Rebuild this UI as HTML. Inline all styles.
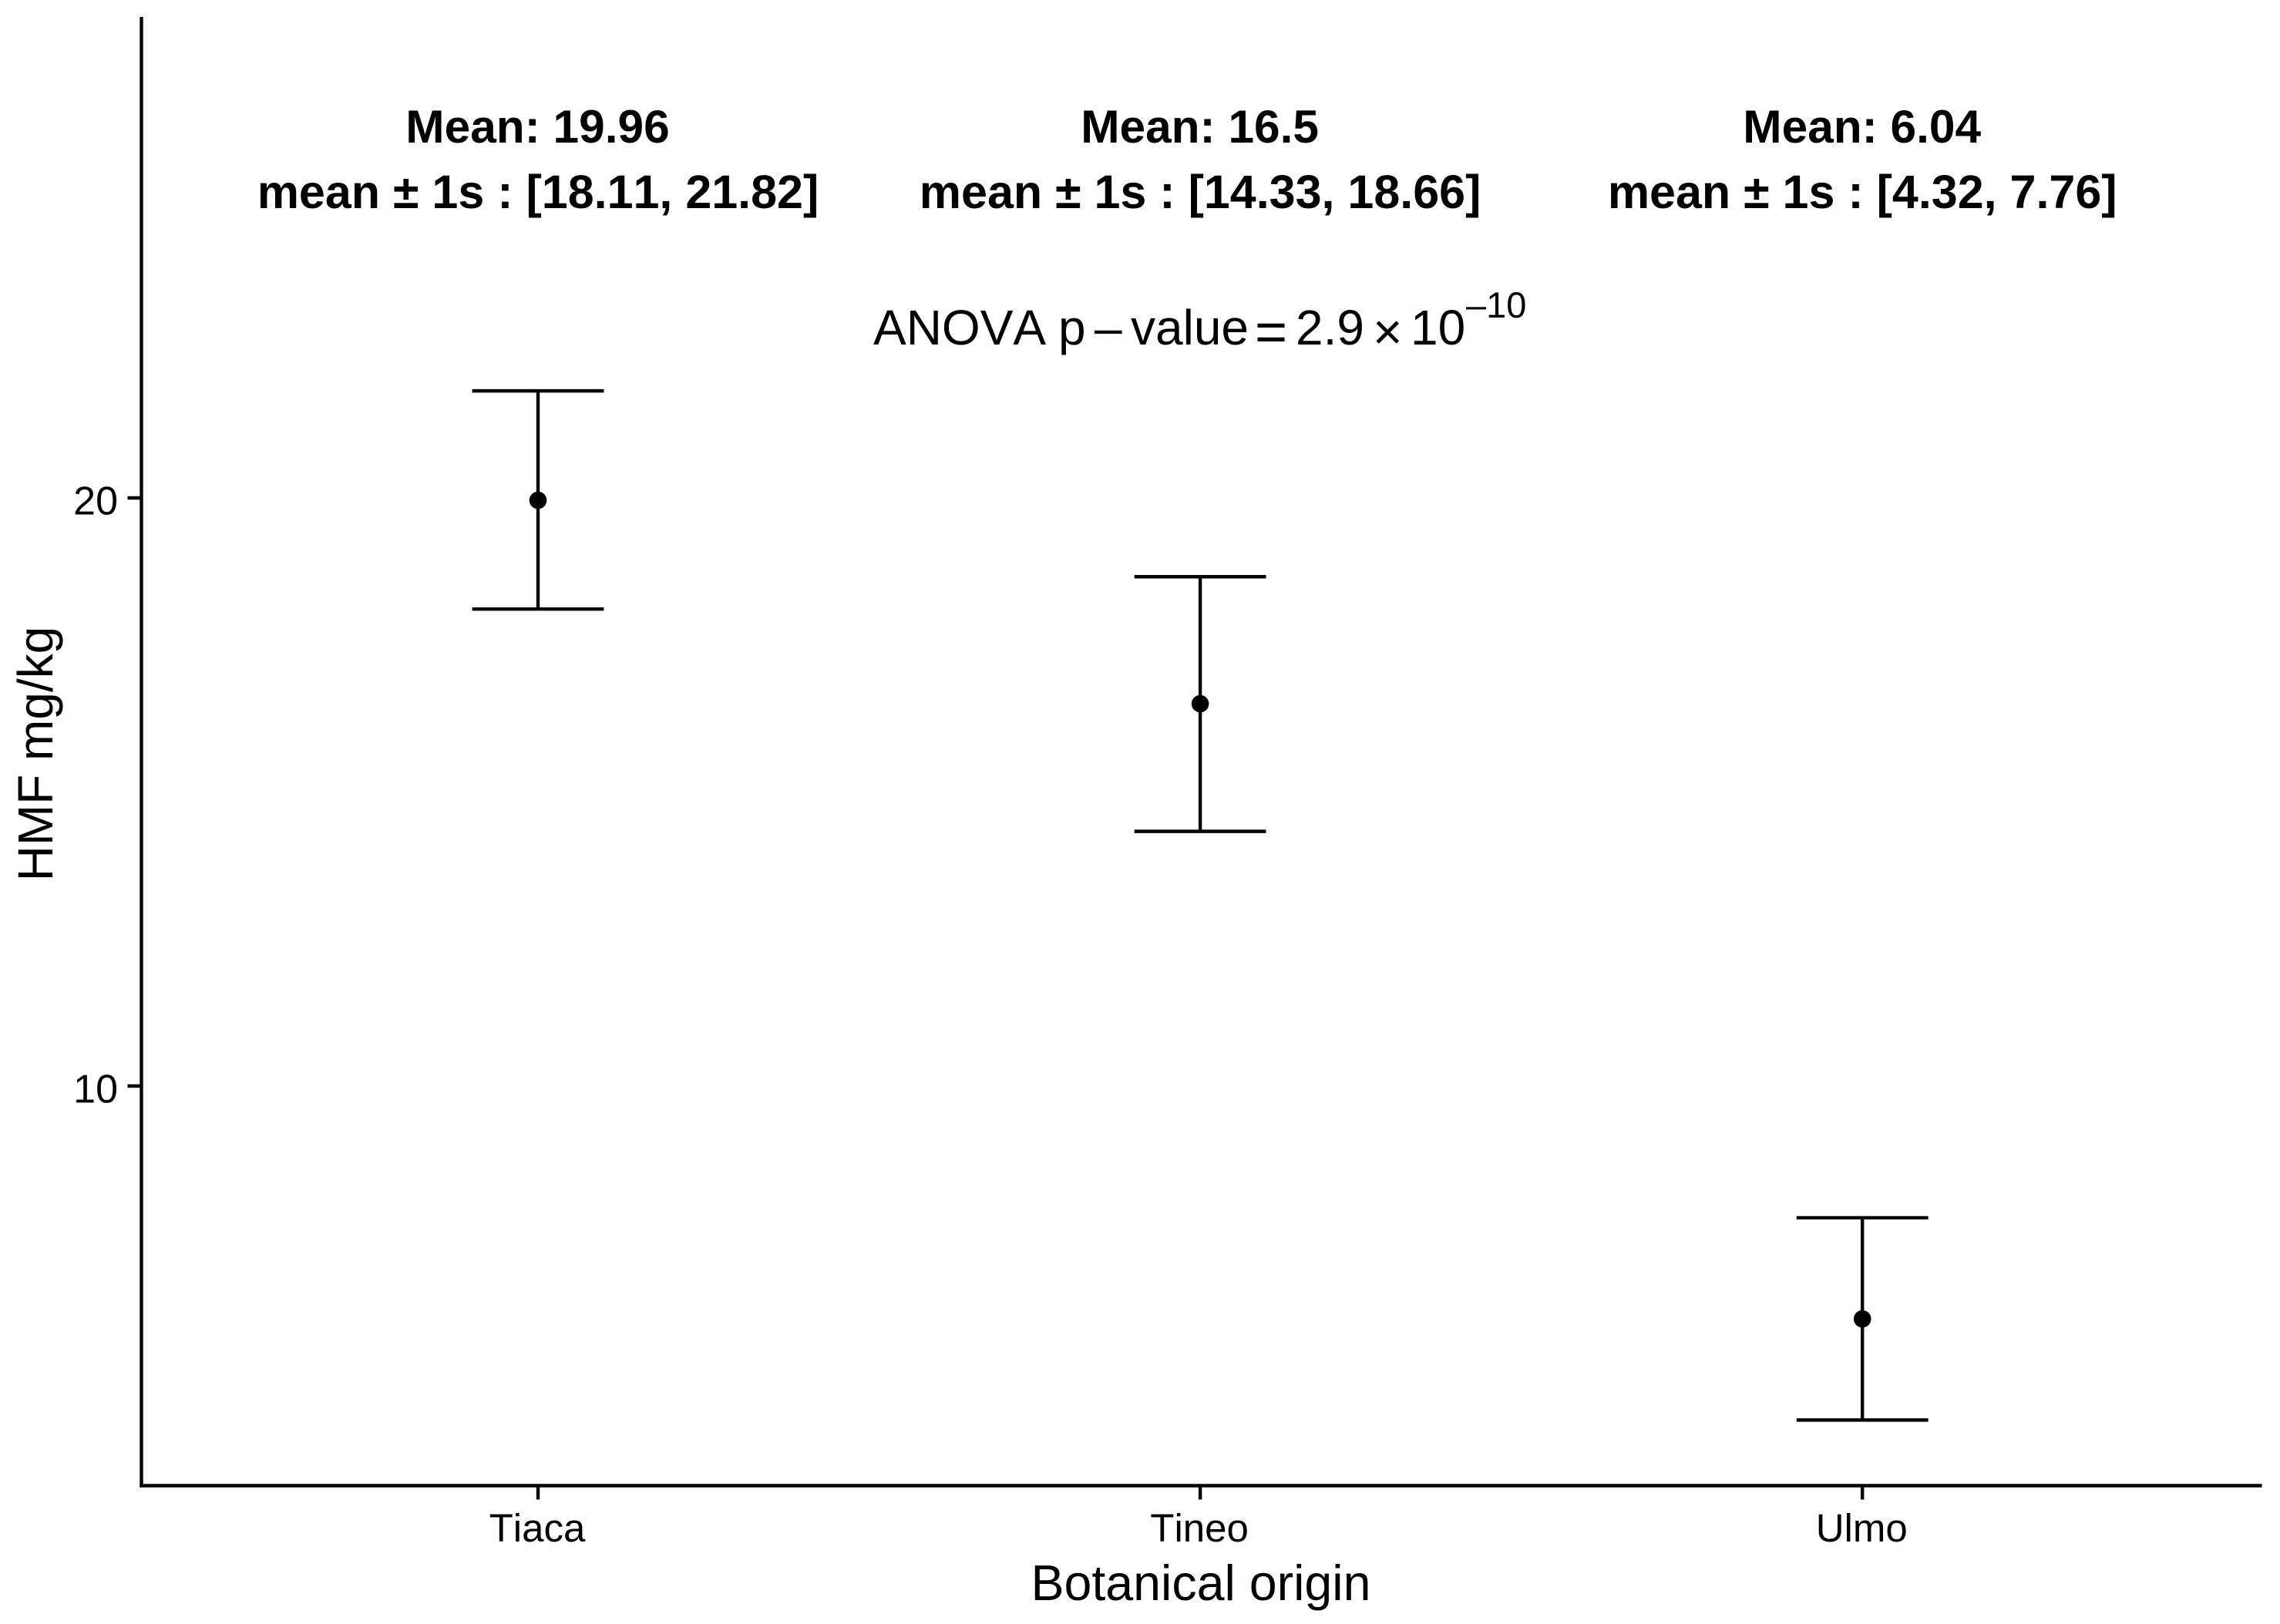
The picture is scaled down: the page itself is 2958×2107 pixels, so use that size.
<!DOCTYPE html>
<html lang="en">
<head>
<meta charset="utf-8">
<title>HMF by botanical origin</title>
<style>
html,body{margin:0;padding:0;background:#fff;}
svg{display:block;}
text{font-family:"Liberation Sans",Arial,sans-serif;fill:#000;font-kerning:none;}
</style>
</head>
<body>
<svg id="chart" xmlns="http://www.w3.org/2000/svg" width="2958" height="2107" viewBox="0 0 2958 2107">
  <rect x="0" y="0" width="2958" height="2107" fill="#fff"/>
  <g font-size="64">
    <text x="1133" y="447">ANOVA</text>
    <text x="1373" y="447">p</text>
    <text x="1420" y="447">–</text>
    <text x="1467" y="447">value</text>
    <text x="1628" y="455" font-size="72">=</text>
    <text x="1681" y="447">2.9</text>
    <text x="1781" y="453" font-size="66">×</text>
    <text x="1830" y="447">10</text>
    <text x="1902" y="412" font-size="47">–10</text>
  </g>
  <text x="1558" y="2076" font-size="64.5" text-anchor="middle">Botanical origin</text>
  <text transform="translate(68,978) rotate(-90)" font-size="64" text-anchor="middle">HMF mg/kg</text>
</svg>
<script>
const categories = ['Tiaca', 'Tineo', 'Ulmo'];
const means = [19.96, 16.5, 6.04];
const lowerBounds = [18.11, 14.33, 4.32];
const upperBounds = [21.82, 18.66, 7.76];
const meanLabels = ['Mean: 19.96', 'Mean: 16.5', 'Mean: 6.04'];
const rangeLabels = ['mean ± 1s : [18.11, 21.82]', 'mean ± 1s : [14.33, 18.66]', 'mean ± 1s : [4.32, 7.76]'];
const yTicks = [10, 20];

const svg = document.getElementById('chart');
const NS = 'http://www.w3.org/2000/svg';
const axisLeft = 183.5, axisBottom = 1927.5, axisTop = 22, axisRight = 2934.5;
const strokeW = 4.4;

function xScale(i) { return 698 + i * 859.1; }
function yScale(v) { return 1409 - (v - 10) * 76.3; }

function line(x1, y1, x2, y2, w) {
  const el = document.createElementNS(NS, 'line');
  el.setAttribute('x1', x1);
  el.setAttribute('y1', y1);
  el.setAttribute('x2', x2);
  el.setAttribute('y2', y2);
  el.setAttribute('stroke', '#000');
  el.setAttribute('stroke-width', w);
  svg.appendChild(el);
  return el;
}
function label(x, y, size, anchor, weight, str) {
  const el = document.createElementNS(NS, 'text');
  el.setAttribute('x', x);
  el.setAttribute('y', y);
  el.setAttribute('font-size', size);
  el.setAttribute('text-anchor', anchor);
  el.setAttribute('font-weight', weight);
  el.textContent = str;
  svg.appendChild(el);
  return el;
}

const yAxis = line(axisLeft, axisTop, axisLeft, axisBottom + 2.2, strokeW);


const xAxis = line(axisLeft - 2.2, axisBottom, axisRight, axisBottom, strokeW);



yTicks.forEach(function (t) {
  const tick = line(axisLeft - 18, yScale(t), axisLeft, yScale(t), strokeW);
  
  
  const lab = label(153, yScale(t) + 21.5, 52, 'end', 'normal', String(t));
  
  
});

categories.forEach(function (c, i) {
  const x = xScale(i);
  const key = c.toLowerCase();
  const tick = line(x, axisBottom, x, axisBottom + 18, strokeW);
  
  
  const lab = label(x - 1, 2000, 51, 'middle', 'normal', c);
  
  

  const stem = line(x, yScale(upperBounds[i]), x, yScale(lowerBounds[i]), strokeW);
  
  
  const capTop = line(x - 85.4, yScale(upperBounds[i]), x + 85.4, yScale(upperBounds[i]), strokeW);
  
  
  const capBottom = line(x - 85.4, yScale(lowerBounds[i]), x + 85.4, yScale(lowerBounds[i]), strokeW);
  
  

  const pt = document.createElementNS(NS, 'circle');
  pt.setAttribute('cx', x);
  pt.setAttribute('cy', yScale(means[i]));
  pt.setAttribute('r', 11.3);
  pt.setAttribute('fill', '#000');
  
  
  svg.appendChild(pt);

  const m = label(x - 0.5, 185, 60.4, 'middle', 'bold', meanLabels[i]);
  
  
  const r = label(x, 270, 61, 'middle', 'bold', rangeLabels[i]);
  
  
});
</script>
</body>
</html>
